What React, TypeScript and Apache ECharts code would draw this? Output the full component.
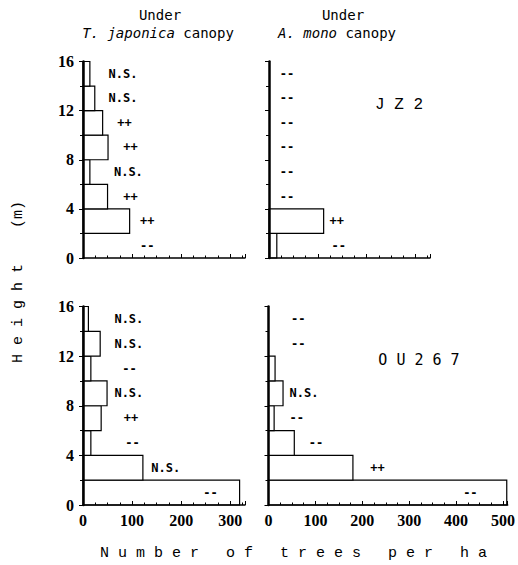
import React, { useEffect, useRef } from "react";
import * as echarts from "echarts";

// Height classes (m): lower bound of each 2 m class
const classLow = [0, 2, 4, 6, 8, 10, 12, 14];
const classWidth = 2;

// JZ2, under T. japonica canopy (trees per ha)
const jz2Japonica = [0, 95, 50, 14, 51, 40, 24, 14];
const jz2JaponicaNotes = ["--", "++", "++", "N.S.", "++", "++", "N.S.", "N.S."];
const jz2JaponicaNoteX = [116, 116, 82, 63, 82, 70, 52, 52];

// JZ2, under A. mono canopy
const jz2Mono = [16, 112, 0, 0, 0, 0, 0, 0];
const jz2MonoNotes = ["--", "++", "--", "--", "--", "--", "--", "--"];
const jz2MonoNoteX = [128, 124, 22, 22, 22, 22, 22, 22];

// OU267, under T. japonica canopy
const ou267Japonica = [319, 122, 16, 37, 49, 16, 35, 11];
const ou267JaponicaNotes = ["--", "N.S.", "--", "++", "N.S.", "--", "N.S.", "N.S."];
const ou267JaponicaNoteX = [245, 139, 86, 83, 64, 80, 64, 64];

// OU267, under A. mono canopy
const ou267Mono = [508, 180, 55, 12, 31, 14, 0, 0];
const ou267MonoNotes = ["--", "++", "--", "--", "N.S.", "", "--", "--"];
const ou267MonoNoteX = [415, 217, 86, 45, 45, 0, 48, 48];

const xMaxSmall = 330;
const xMaxLarge = 510;
const yMax = 16;

const MONO = '"DejaVu Sans Mono", monospace';
const SERIF_MONO = '"Liberation Mono", monospace';
const SERIF = '"Liberation Serif", serif';

const grids = [
  { left: 83, top: 61.5, width: 162, height: 196.5 },
  { left: 269, top: 61.5, width: 161, height: 196.5 },
  { left: 83, top: 306.5, width: 162, height: 198.5 },
  { left: 268.5, top: 306.5, width: 246, height: 198.5 },
];

const panels = [
  { values: jz2Japonica, notes: jz2JaponicaNotes, noteX: jz2JaponicaNoteX, max: xMaxSmall, xLabels: false, yLabels: true },
  { values: jz2Mono, notes: jz2MonoNotes, noteX: jz2MonoNoteX, max: xMaxSmall, xLabels: false, yLabels: false },
  { values: ou267Japonica, notes: ou267JaponicaNotes, noteX: ou267JaponicaNoteX, max: xMaxSmall, xLabels: true, yLabels: true },
  { values: ou267Mono, notes: ou267MonoNotes, noteX: ou267MonoNoteX, max: xMaxLarge, xLabels: true, yLabels: false },
];

export default function App() {
  const ref = useRef<HTMLDivElement>(null);
  useEffect(() => {
    if (!ref.current) return;
    const chart = echarts.init(ref.current, null, { renderer: "svg" });

    const xAxis = panels.map((p, i) => ({
      type: "value",
      gridIndex: i,
      min: 0,
      max: p.max,
      interval: 100,
      z: 5,
      axisLine: { show: true, lineStyle: { color: "#000", width: 1.5 } },
      axisTick: { show: true, inside: true, length: 4, lineStyle: { color: "#000", width: 1 } },
      minorTick: { show: true, splitNumber: 4, length: 2.5, lineStyle: { color: "#000", width: 1 } },
      splitLine: { show: false },
      axisLabel: {
        show: p.xLabels,
        color: "#000",
        fontFamily: SERIF,
        fontWeight: "bold",
        fontSize: 16,
        margin: 7,
        formatter: (v: number) => (v % 100 === 0 ? String(v) : ""),
      },
    }));

    const yAxis = panels.map((p, i) => ({
      type: "value",
      gridIndex: i,
      min: 0,
      max: yMax,
      interval: 4,
      z: 5,
      axisLine: { show: true, lineStyle: { color: "#000", width: 2.5 } },
      axisTick: { show: true, inside: false, length: 4, lineStyle: { color: "#000", width: 1 } },
      minorTick: { show: true, splitNumber: 2, length: 3, lineStyle: { color: "#000", width: 1 } },
      splitLine: { show: false },
      axisLabel: { show: p.yLabels, color: "#000", fontFamily: SERIF, fontWeight: "bold", fontSize: 16, margin: 9 },
    }));

    const series: any[] = [];
    panels.forEach((p, i) => {
      series.push({
        type: "custom",
        xAxisIndex: i,
        yAxisIndex: i,
        z: 2,
        encode: { x: 0, y: [1, 2] },
        data: p.values.map((v, k) => [v, classLow[k], classLow[k] + classWidth]),
        renderItem: (params: any, api: any) => {
          const v = api.value(0);
          if (!v) return { type: "group", children: [] };
          const p0 = api.coord([0, api.value(1)]);
          const p1 = api.coord([v, api.value(2)]);
          return {
            type: "rect",
            shape: { x: p0[0], y: p1[1], width: p1[0] - p0[0], height: p0[1] - p1[1] },
            style: { fill: "#fff", stroke: "#000", lineWidth: 1.2 },
          };
        },
      });
      series.push({
        type: "custom",
        xAxisIndex: i,
        yAxisIndex: i,
        z: 6,
        encode: { x: 0, y: 1 },
        data: p.noteX.map((x, k) => [x, classLow[k] + classWidth / 2]),
        renderItem: (params: any, api: any) => {
          const txt = p.notes[params.dataIndex];
          if (!txt) return { type: "group", children: [] };
          const c = api.coord([api.value(0), api.value(1)]);
          return {
            type: "text",
            x: c[0],
            y: c[1],
            style: {
              text: txt,
              fill: "#000",
              fontFamily: MONO,
              fontSize: 12,
              fontWeight: "bold",
              align: "left",
              verticalAlign: "middle",
            },
          };
        },
      });
    });

    const txt = (x: number, y: number, text: string, extra: any = {}, rotation = 0) => ({
      type: "text",
      x,
      y,
      rotation,
      style: {
        text,
        fill: "#000",
        fontFamily: MONO,
        fontSize: 14,
        align: "center",
        verticalAlign: "middle",
        ...extra,
      },
    });

    const italicRich = { i: { fontStyle: "italic", fontFamily: MONO, fontSize: 14, fill: "#000" } };

    chart.setOption({
      animation: false,
      backgroundColor: "#fff",
      grid: grids.map((g) => ({ ...g, containLabel: false })),
      xAxis,
      yAxis,
      series,
      graphic: [
        txt(160, 15, "Under"),
        txt(343, 15, "Under"),
        txt(158, 33, "{i|T. japonica} canopy", { rich: italicRich }),
        txt(337, 33, "{i|A. mono} canopy", { rich: italicRich }),
        txt(399, 105, "J Z 2", { fontFamily: SERIF_MONO, fontSize: 16 }),
        txt(419, 360, "O U 2 6 7", { fontFamily: MONO, fontSize: 15 }),
        txt(293.5, 553, "N u m b e r   o f   t r e e s   p e r   h a", { fontFamily: SERIF_MONO, fontSize: 15 }),
        txt(18, 282, "H e i g h t    (m)", { fontFamily: SERIF_MONO, fontSize: 15 }, Math.PI / 2),
      ],
    });
    return () => chart.dispose();
  }, []);
  return (
    <div
      ref={ref}
      style={{ position: "fixed", left: 0, top: 0, width: 518, height: 565, background: "#fff" }}
    />
  );
}
